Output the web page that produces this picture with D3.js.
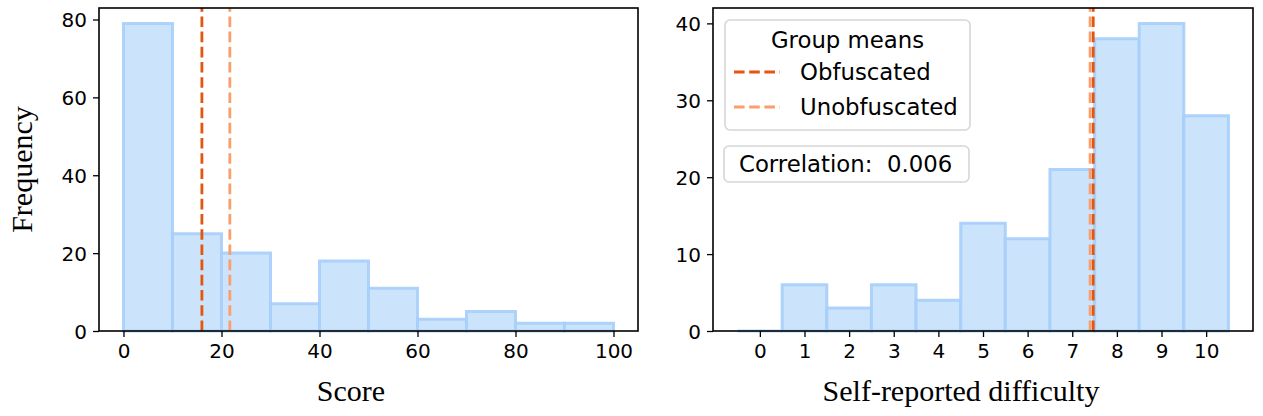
<!DOCTYPE html>
<html>
<head>
<meta charset="utf-8">
<script src="https://cdn.jsdelivr.net/npm/d3@7"></script>
<style>
  html, body { margin: 0; padding: 0; background: #fff; }
  svg { display: block; }
  text { white-space: pre; }
</style>
</head>
<body>
<svg id="chart" width="1263" height="416"></svg>
<script>
// ---- data ----
const scoreBinEdges = [0, 10, 20, 30, 40, 50, 60, 70, 80, 90, 100];
const scoreCounts = [79, 25, 20, 7, 18, 11, 3, 5, 2, 2];
const scoreTicksX = [0, 20, 40, 60, 80, 100];
const scoreTicksY = [0, 20, 40, 60, 80];
const scoreMeanObf = 16.0;
const scoreMeanUnobf = 21.7;

const difficultyCategories = [0, 1, 2, 3, 4, 5, 6, 7, 8, 9, 10];
const difficultyCounts = [0, 6, 3, 6, 4, 14, 12, 21, 38, 40, 28];
const difficultyTicksY = [0, 10, 20, 30, 40];
const difficultyMeanObf = 7.47;
const difficultyMeanUnobf = 7.40;

const legendTitle = "Group means";
const legendLabels = ["Obfuscated", "Unobfuscated"];
const correlationText = "Correlation:  0.006";

// ---- styles ----
const barFill = "#cbe3fb";
const barEdge = "#a6cefb";
const colObf = "#e6550d";
const colUnobf = "#fb9e6c";
const sansFont = "'DejaVu Sans', sans-serif";
const serifFont = "'Liberation Serif', 'Times New Roman', serif";
const tickFS = 20;
const legFS = 22.8;
const labelFS = 30;
const dash = "10.6,4.6";

const svg = d3.select("#chart");

function panel(opts) {
  const { left, right, top, bottom } = opts;
  const g = svg.append("g");
  const x = d3.scaleLinear().domain(opts.xDomain).range([left, right]);
  const y = d3.scaleLinear().domain(opts.yDomain).range([bottom, top]);

  // bars
  g.append("g").selectAll("path").data(opts.bars).enter().append("path")
    .attr("d", d => `M${x(d.x0)},${y(0)}V${y(d.v)}H${x(d.x1)}V${y(0)}Z`)
    .attr("fill", barFill)
    .attr("stroke", barEdge)
    .attr("stroke-width", 3)
    .attr("stroke-opacity", 0.9);

  // mean lines (axvline from bottom to top)
  opts.means.forEach(m => {
    g.append("line")
      .attr("x1", x(m.v)).attr("x2", x(m.v))
      .attr("y1", bottom).attr("y2", top)
      .attr("stroke", m.color)
      .attr("stroke-width", 2.8)
      .attr("stroke-dasharray", dash);
  });

  // axes
  const xAxis = d3.axisBottom(x).tickValues(opts.xTicks).tickSize(6).tickPadding(6).tickFormat(d3.format("d"));
  const yAxis = d3.axisLeft(y).tickValues(opts.yTicks).tickSize(6).tickPadding(6).tickFormat(d3.format("d"));
  const gx = g.append("g").attr("transform", `translate(0,${bottom})`).call(xAxis);
  const gy = g.append("g").attr("transform", `translate(${left},0)`).call(yAxis);
  [gx, gy].forEach(a => {
    a.select(".domain").remove();
    a.selectAll(".tick line").attr("stroke", "#000").attr("stroke-width", 1.3);
    a.selectAll(".tick text").attr("font-family", sansFont).attr("font-size", tickFS).attr("fill", "#000");
  });
  gx.selectAll(".tick text").attr("dy", "0.76em");
  gy.selectAll(".tick text").attr("dy", "0.36em");

  // spines
  g.append("rect")
    .attr("x", left).attr("y", top)
    .attr("width", right - left).attr("height", bottom - top)
    .attr("fill", "none").attr("stroke", "#000").attr("stroke-width", 1.6);

  // x label
  g.append("text")
    .attr("x", opts.xLabelX).attr("y", 401)
    .attr("text-anchor", "middle")
    .attr("font-family", serifFont).attr("font-size", labelFS)
    .text(opts.xLabel);

  if (opts.yLabel) {
    g.append("text")
      .attr("transform", `translate(32,${(top + bottom) / 2}) rotate(-90)`)
      .attr("text-anchor", "middle")
      .attr("font-family", serifFont).attr("font-size", labelFS)
      .text(opts.yLabel);
  }
  return { g, x, y };
}

// left panel
const scoreBars = scoreCounts.map((v, i) => ({ x0: scoreBinEdges[i], x1: scoreBinEdges[i + 1], v }));
panel({
  left: 99, right: 638, top: 8, bottom: 331,
  xDomain: [-5, 105], yDomain: [0, d3.max(scoreCounts) * 1.05],
  bars: scoreBars,
  means: [{ v: scoreMeanObf, color: colObf }, { v: scoreMeanUnobf, color: colUnobf }],
  xTicks: scoreTicksX, yTicks: scoreTicksY,
  xLabel: "Score", xLabelX: 351, yLabel: "Frequency"
});

// right panel
const diffBars = difficultyCategories.map((c, i) => ({ x0: c - 0.5, x1: c + 0.5, v: difficultyCounts[i] }));
panel({
  left: 713, right: 1253, top: 8, bottom: 331,
  xDomain: [-1.05, 11.05], yDomain: [0, d3.max(difficultyCounts) * 1.05],
  bars: diffBars,
  means: [{ v: difficultyMeanObf, color: colObf }, { v: difficultyMeanUnobf, color: colUnobf }],
  xTicks: difficultyCategories, yTicks: difficultyTicksY,
  xLabel: "Self-reported difficulty", xLabelX: 961
});

// legend
const lg = svg.append("g");
lg.append("rect")
  .attr("x", 725).attr("y", 20).attr("width", 245).attr("height", 110)
  .attr("rx", 5).attr("ry", 5)
  .attr("fill", "#fff").attr("fill-opacity", 0.8)
  .attr("stroke", "#d6d6d6").attr("stroke-width", 1.6);
lg.append("text")
  .attr("x", 847.5).attr("y", 48)
  .attr("text-anchor", "middle")
  .attr("font-family", sansFont).attr("font-size", legFS)
  .text(legendTitle);
const legColors = [colObf, colUnobf];
const legY = [72, 107];
legendLabels.forEach((lab, i) => {
  lg.append("line")
    .attr("x1", 734).attr("x2", 780)
    .attr("y1", legY[i]).attr("y2", legY[i])
    .attr("stroke", legColors[i]).attr("stroke-width", 2.8)
    .attr("stroke-dasharray", dash);
  lg.append("text")
    .attr("x", 800).attr("y", legY[i] + 8.3)
    .attr("font-family", sansFont).attr("font-size", legFS)
    .text(lab);
});

// correlation box
const cg = svg.append("g");
cg.append("rect")
  .attr("x", 724).attr("y", 146).attr("width", 245).attr("height", 36)
  .attr("rx", 5).attr("ry", 5)
  .attr("fill", "#fff").attr("fill-opacity", 0.8)
  .attr("stroke", "#d6d6d6").attr("stroke-width", 1.6);
cg.append("text")
  .attr("x", 739).attr("y", 172.3)
  .attr("font-family", sansFont).attr("font-size", legFS)
  .attr("xml:space", "preserve")
  .text(correlationText);
</script>
</body>
</html>
